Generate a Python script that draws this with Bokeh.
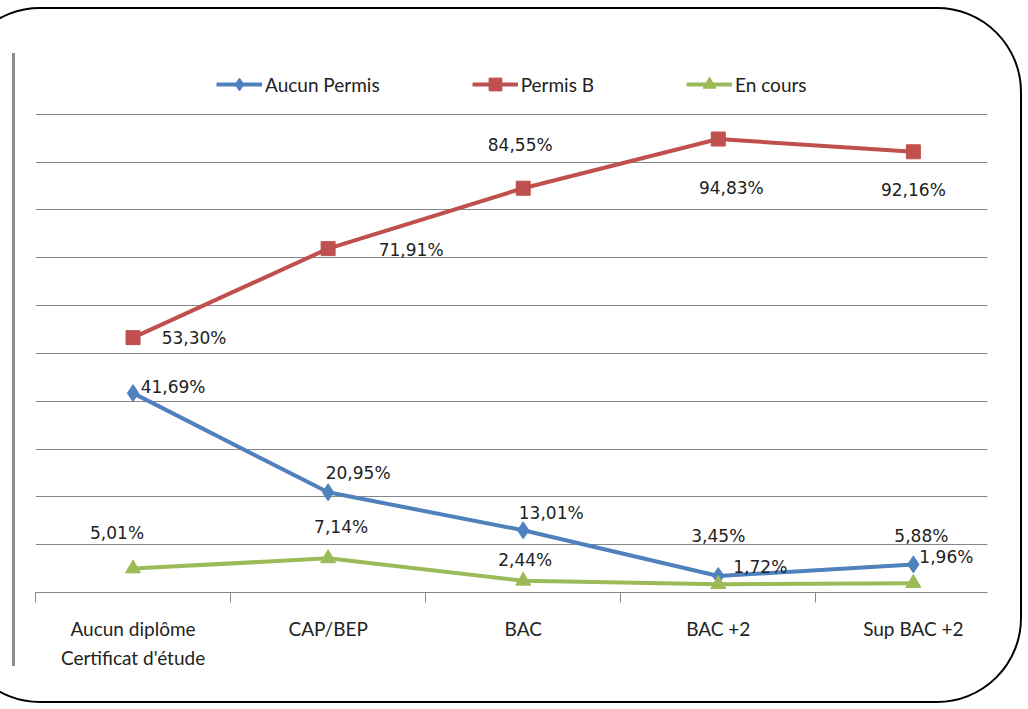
from bokeh.plotting import figure
from bokeh.models import Range1d, FixedTicker, Legend, LegendItem, ColumnDataSource, Div
from bokeh.layouts import row
from bokeh.core.properties import value
from bokeh.embed import file_html
from bokeh.resources import INLINE

# ---- data ----
categories = ["Aucun diplôme\nCertificat d'étude", "CAP/BEP", "BAC", "BAC +2", "Sup BAC +2"]
aucun_permis = [41.69, 20.95, 13.01, 3.45, 5.88]
permis_b = [53.30, 71.91, 84.55, 94.83, 92.16]
en_cours = [5.01, 7.14, 2.44, 1.72, 1.96]
series_names = ["Aucun Permis", "Permis B", "En cours"]
y_grid = [10, 20, 30, 40, 50, 60, 70, 80, 90, 100]

# ---- label placement (pixel offsets, style only) ----
off_blue = ([40, 30, 28, 0, 8], [-6, -19, -17, -40, -28])
off_red = ([61, 83, -3, 13, 0], [0, 1, -43, 49, 38])
off_green = ([-16, 13, 2, 42, 33], [-36, -31, -21, -17, -26])

BLUE, RED, GREEN = "#4F81BD", "#C0504D", "#9BBB59"
GRID = "#878787"

xs = list(range(len(categories)))

p = figure(width=1005, height=692, output_backend="svg", toolbar_location=None,
           x_range=Range1d(-0.5, 4.38), y_range=Range1d(0, 110),
           min_border_left=20, min_border_right=33, min_border_top=57, min_border_bottom=109,
           margin=(0, 0, 0, 0))
p.outline_line_color = None
p.background_fill_color = None
p.border_fill_color = None

p.yaxis.visible = False
p.ygrid.ticker = FixedTicker(ticks=y_grid)
p.ygrid.grid_line_color = GRID
p.ygrid.grid_line_width = 1
p.xgrid.visible = False

ax = p.xaxis[0]
ax.ticker = FixedTicker(ticks=xs, minor_ticks=[i - 0.5 for i in xs])
ax.major_label_overrides = {i: c for i, c in enumerate(categories)}
ax.major_tick_line_color = None
ax.minor_tick_line_color = GRID
ax.minor_tick_out = 10
ax.minor_tick_in = 0
ax.axis_line_color = GRID
ax.axis_line_width = 1
ax.major_label_standoff = 14
ax.major_label_text_font = "Lato"
ax.major_label_text_font_size = "19px"
ax.major_label_text_color = "#222222"
ax.major_label_text_line_height = 1.27

items = []
specs = [(aucun_permis, BLUE, "diamond", 17, off_blue),
         (permis_b, RED, "square", 14, off_red),
         (en_cours, GREEN, "triangle", 15, off_green)]
for name, (vals, col, mk, sz, off) in zip(series_names, specs):
    src = ColumnDataSource(dict(x=xs, y=vals,
                                lbl=[f"{v:.2f}%".replace(".", ",") for v in vals],
                                dx=off[0], dy=off[1]))
    lr = p.line("x", "y", source=src, line_color=col, line_width=4)
    sr = p.scatter("x", "y", source=src, marker=mk, size=sz, fill_color=col, line_color=col)
    p.text("x", "y", text="lbl", source=src, x_offset="dx", y_offset="dy",
           text_align="center", text_baseline="middle",
           text_font=value("DejaVu Sans"), text_font_size="17px", text_color="#222222")
    items.append(LegendItem(label=name, renderers=[lr, sr]))

leg = Legend(items=items, orientation="horizontal", location=(181, 492),
             glyph_width=46, glyph_height=32, label_height=32, label_standoff=3,
             spacing=92, padding=0, margin=0, border_line_color=None,
             background_fill_alpha=0,
             label_text_font="Lato", label_text_font_size="19px", label_text_color="#222222")
p.add_layout(leg, "center")

# decorative left rule and rounded frame (page layout)
rule = Div(text="", width=3, height=613, margin=(44, 0, 0, 55),
           styles={"background-color": "#8c8c8c"})
layout = row(rule, p, margin=(7, 0, 0, -45),
             styles={"border": "2px solid black", "border-radius": "85px"})

open("out.html", "w").write(file_html(layout, INLINE))
